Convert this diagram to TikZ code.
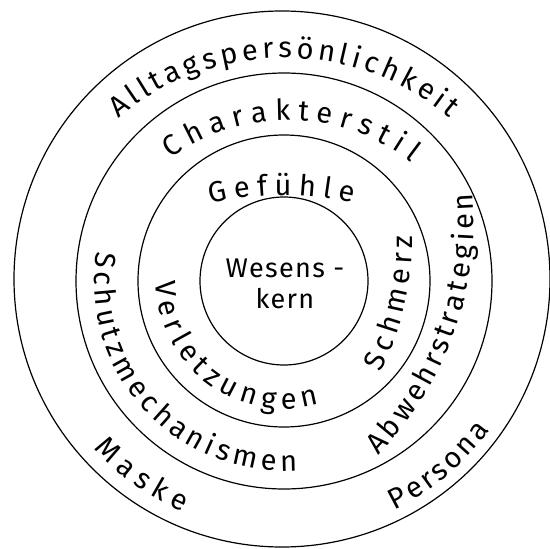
\documentclass[tikz,border=0pt]{standalone}
\usepackage{fontspec}
\usetikzlibrary{decorations.text}
\newfontfamily\handfam{Fira Sans}
\newfontfamily\handwide{Fira Sans}[LetterSpace=5]
\newcommand\ringfont{\handfam\fontsize{29}{34}\selectfont}
\newcommand\corefont{\handwide\fontsize{27}{31}\selectfont}
\begin{document}
\begin{tikzpicture}[x=1pt,y=1pt,
  ring/.style={line width=1.2pt},
  ringtext/.style={decoration={text along path,text={|\ringfont|#1},
    text align={fit to path}},decorate}]
  \useasboundingbox (0,0) rectangle (550,-549);
  % the four rings
  \coordinate (c) at (284,-281);
  \foreach \r in {84,146,208}{
    \draw[ring] (c) circle[radius=\r];
  }
  \draw[ring] (282,-279) circle[radius=268];
  % core
  \node[font=\corefont,align=center] (kern) at (285,-284) {Wesens -\\kern};
  % upper labels, clockwise
  \path[ringtext=Alltagspersönlichkeit] ([shift={(130:258)}]284,-316) arc[start angle=130,end angle=50,radius=258];
  \path[ringtext=Charakterstil] ([shift={(126:200)}]288,-320) arc[start angle=126,end angle=52,radius=200];
  \path[ringtext=Gefühle] ([shift={(104:300)}]283,-495) arc[start angle=104,end angle=76.5,radius=300];
  % lower labels, counterclockwise
  \path[ringtext=Verletzungen] ([shift={(180:128)}]284,-281) arc[start angle=180,end angle=286,radius=128];
  \path[ringtext=Schmerz] ([shift={(-27.8:277)}]135,-243) arc[start angle=-27.8,end angle=1.5,radius=277];
  \path[ringtext=Schutzmechanismen] ([shift={(171:190)}]284,-281) arc[start angle=171,end angle=274,radius=190];
  \path[ringtext=Abwehrstrategien] ([shift={(-44.3:337)}]137,-219.6) arc[start angle=-44.3,end angle=4.5,radius=337];
  \path[ringtext=Maske] ([shift={(222:253)}]282,-279) arc[start angle=222,end angle=247,radius=253];
  \path[ringtext=Persona] ([shift={(-64:257)}]282,-279) arc[start angle=-64,end angle=-36,radius=257];
\end{tikzpicture}
\end{document}
